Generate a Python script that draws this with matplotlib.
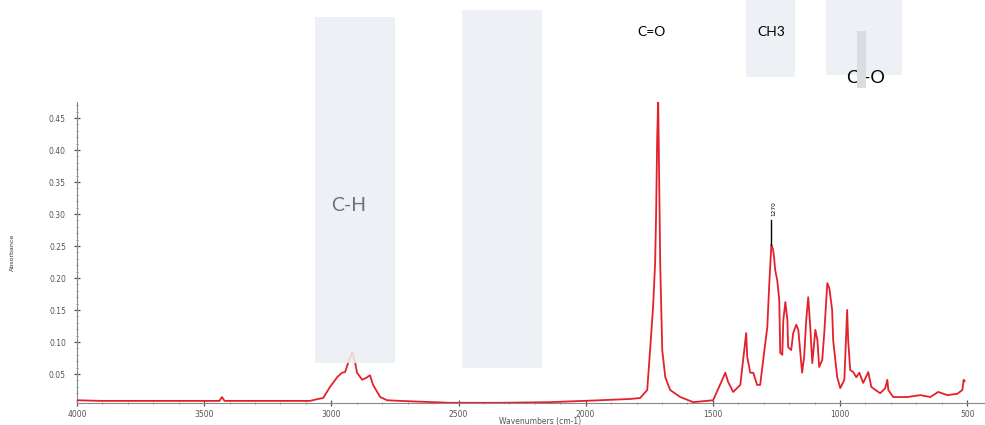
import matplotlib
matplotlib.use("Agg")
import matplotlib.pyplot as plt
from matplotlib.patches import Rectangle
from matplotlib.ticker import MultipleLocator, FormatStrFormatter

# FTIR absorbance spectrum
wavenumber = [4000, 3909, 3713, 3516, 3440, 3430, 3420, 3202, 3084, 3052, 3032, 3005,
              2977, 2958, 2946, 2930, 2918, 2907, 2899, 2879, 2863, 2848, 2836, 2808,
              2781, 2730, 2533, 2336, 2140, 1943, 1825, 1786, 1758, 1746, 1735, 1727,
              1723, 1719, 1715, 1711, 1707, 1703, 1699, 1687, 1668, 1628, 1577, 1499,
              1463, 1451, 1440, 1420, 1392, 1381, 1369, 1365, 1353, 1341, 1326, 1314,
              1302, 1286, 1278, 1270, 1263, 1259, 1255, 1247, 1239, 1235, 1227, 1223,
              1215, 1207, 1204, 1192, 1184, 1172, 1164, 1156, 1149, 1141, 1133, 1125,
              1117, 1109, 1097, 1089, 1082, 1070, 1062, 1050, 1042, 1031, 1027, 1011,
              999, 983, 972, 968, 960, 948, 936, 924, 909, 889, 877, 861,
              842, 822, 814, 810, 791, 736, 684, 645, 614, 578, 539, 519,
              514, 510]
absorbance = [0.009, 0.008, 0.008, 0.008, 0.008, 0.014, 0.008, 0.008, 0.008, 0.011, 0.0125, 0.030,
              0.045, 0.052, 0.053, 0.072, 0.084, 0.069, 0.052, 0.041, 0.044, 0.048, 0.033, 0.014,
              0.009, 0.008, 0.005, 0.005, 0.006, 0.009, 0.011, 0.0125, 0.025, 0.092, 0.155, 0.223,
              0.302, 0.416, 0.48, 0.353, 0.223, 0.155, 0.0875, 0.045, 0.025, 0.014, 0.006, 0.009,
              0.041, 0.052, 0.0375, 0.022, 0.033, 0.072, 0.114, 0.077, 0.052, 0.052, 0.033, 0.033,
              0.072, 0.123, 0.192, 0.252, 0.244, 0.231, 0.2125, 0.197, 0.166, 0.083, 0.080, 0.134,
              0.1625, 0.134, 0.092, 0.0875, 0.114, 0.127, 0.119, 0.083, 0.052, 0.077, 0.134, 0.170,
              0.123, 0.067, 0.119, 0.103, 0.061, 0.072, 0.114, 0.192, 0.184, 0.150, 0.103, 0.045,
              0.028, 0.041, 0.150, 0.103, 0.056, 0.053, 0.045, 0.052, 0.036, 0.053, 0.030, 0.025,
              0.020, 0.028, 0.041, 0.025, 0.014, 0.014, 0.017, 0.014, 0.022, 0.017, 0.019, 0.025,
              0.041, 0.039]

# labelled peak
peak_wn = 1270
peak_abs = 0.252
peak_label = "1270"

# highlighted bands: (wn_low, wn_high, abs_low, abs_high, label)
bands = [
    (2749, 3066, 0.067, 0.608, "C-H"),
    (2171, 2486, 0.059, 0.619, ""),
    (1176, 1368, 0.514, 0.640, "CH3"),
    (755, 1054, 0.517, 0.640, ""),
]
band_label_cs = "C=O"
band_label_co = "C -O"

fig = plt.figure(figsize=(9.85, 4.25), dpi=100)
ax = fig.add_axes([77 / 985, 22 / 425, 908 / 985, 301 / 425])

ax.plot(wavenumber, absorbance, color="#e3212b", lw=1.3, zorder=3)
ax.plot([peak_wn, peak_wn], [peak_abs, 0.29], color="black", lw=1.0, zorder=4)
ax.text(peak_wn - 10, 0.297, peak_label, rotation=90, fontsize=4.2,
        ha="center", va="bottom", color="black", zorder=4)

ax.set_xlim(4000, 430)
ax.set_ylim(0.0047, 0.475)

ax.xaxis.set_major_locator(MultipleLocator(500))
ax.xaxis.set_minor_locator(MultipleLocator(100))
ax.yaxis.set_major_locator(MultipleLocator(0.05))
ax.yaxis.set_minor_locator(MultipleLocator(0.01))
ax.yaxis.set_major_formatter(FormatStrFormatter("%.2f"))
ax.xaxis.set_major_formatter(FormatStrFormatter("%d"))

for s in ("top", "right"):
    ax.spines[s].set_visible(False)
for s in ("left", "bottom"):
    ax.spines[s].set_color("#8a8a8a")
    ax.spines[s].set_linewidth(0.8)

ax.tick_params(which="major", direction="inout", length=4, width=0.9,
               color="#555555", labelsize=5.5, labelcolor="#555555", pad=3)
ax.tick_params(which="minor", direction="inout", length=2, width=0.6, color="#777777")
ax.tick_params(axis="y", pad=6)

ax.set_ylabel("Absorbance", fontsize=4.5, color="#333333")
ax.yaxis.set_label_coords(-0.068, 0.5)
ax.set_xlabel("Wavenumbers (cm-1)", fontsize=5.5, color="#555555")
ax.xaxis.set_label_coords(0.51, -0.047)

# shaded bands drawn over the spectrum
face = "#ebeef3"
for lo, hi, b0, b1, lab in bands:
    ax.add_patch(Rectangle((lo, b0), hi - lo, b1 - b0, facecolor=face, edgecolor="none",
                           alpha=0.88, clip_on=False, zorder=5))

ch = bands[0]
ax.text((ch[0] + ch[1]) / 2 + 25, 0.314, ch[4], fontsize=14, family="Lato",
        color="#6d7178", ha="center", va="center", zorder=6)
ch3 = bands[2]
ax.text((ch3[0] + ch3[1]) / 2, 0.584, ch3[4], fontsize=10, family="Lato",
        color="black", ha="center", va="center", zorder=6, clip_on=False)
ax.text(1740, 0.584, band_label_cs, fontsize=10, family="Lato",
        color="black", ha="center", va="center", zorder=6, clip_on=False)

co = bands[3]
t = ax.text((co[0] + co[1]) / 2 - 8, 0.512, band_label_co, fontsize=13, family="Lato",
            color="black", ha="center", va="center", zorder=6)
clip = Rectangle((1200, 0.499), 900, 0.2, transform=ax.transData)
t.set_clip_path(clip)
ax.add_patch(Rectangle((897, 0.497), 35, 0.089, facecolor="#d9dce0", edgecolor="none",
                       clip_on=False, zorder=7))

fig.savefig("out.png", dpi=100)
